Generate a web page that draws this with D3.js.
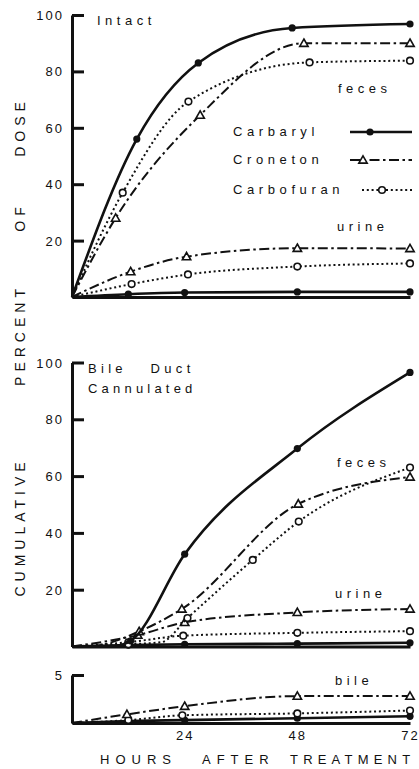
<!DOCTYPE html>
<html>
<head>
<meta charset="utf-8">
<script src="https://cdn.jsdelivr.net/npm/d3@7"></script>
<style>
  body { margin: 0; background: #fff; }
  svg text { font-family: "Liberation Sans", Arial, sans-serif; fill: #111; white-space: pre; }
</style>
</head>
<body>
<svg id="chart" width="419" height="769"></svg>
<script>
// --- data: [hours, percent of dose, (0 = no marker)] ---
var compounds = ["Carbaryl", "Croneton", "Carbofuran"];
var hourTicks = [24, 48, 72];
var pctTicks = [20, 40, 60, 80, 100];
var bileTicks = [5];

// intact animals
var intactFecesCarbaryl   = [[0,0],[13.8,56],[26.9,83],[46.9,95.4],[72,96.8]];
var intactFecesCroneton   = [[0,0],[9.3,28],[27.3,64.5],[49.4,90],[72,90]];
var intactFecesCarbofuran = [[0,0],[10.8,37],[24.8,69.3],[50.6,83.2],[72,83.8]];
var intactUrineCarbaryl   = [[0,0],[12,1],[24,1.6],[48,1.8],[72,1.8]];
var intactUrineCroneton   = [[0,0],[12.5,9],[24.4,14.3],[48,17.3],[72,17.2]];
var intactUrineCarbofuran = [[0,0],[12.7,4.6],[24.7,8],[48,10.8],[72,11.9]];

// bile duct cannulated
var bdcFecesCarbaryl   = [[0,0],[9,0.2,0],[12.5,2],[24,32.5],[48,69.7],[72,96.5]];
var bdcFecesCroneton   = [[0,0],[4,0.1,0],[14.3,5.3],[23.4,13.2],[48.2,50.2],[72,59.7]];
var bdcFecesCarbofuran = [[0,0],[12,0.8],[19,1.5,0],[24.6,10],[38.5,30.5],[48.3,44],[72,63]];
var bdcUrineCarbaryl   = [[0,0],[12,0.5],[24,0.8],[48,1],[72,1.3]];
var bdcUrineCroneton   = [[0,0],[14,4],[24,8.5],[48,12],[72,13.2]];
var bdcUrineCarbofuran = [[0,0],[12,1.5],[23.7,3.8],[48,4.8],[72,5.4]];
var bileCarbaryl   = [[0,0],[12,0.2],[24,0.3],[48,0.5],[72,0.7]];
var bileCroneton   = [[0,0],[11.7,0.9],[24,1.75],[48,2.8],[72,2.8]];
var bileCarbofuran = [[0,0],[12,0.3],[23.5,0.8],[48,1.0],[72,1.3]];

/*=================================
	SETUP
**===============================*/
var svg = d3.select("#chart");
var x = d3.scaleLinear().domain([0, 72]).range([72, 410]);
var yTop  = d3.scaleLinear().domain([0, 100]).range([297, 15]);
var yMid  = d3.scaleLinear().domain([0, 100]).range([646.5, 362.5]);
var yBile = d3.scaleLinear().domain([0, 5]).range([723, 675]);

var styles = {
	Carbaryl:   { dash: null,             width: 2.6, marker: "dot" },
	Croneton:   { dash: "10,3.5,2.5,3.5", width: 2,   marker: "tri" },
	Carbofuran: { dash: "2,2.8",          width: 2,   marker: "ring" }
};

function drawMarker(g, type, cx, cy) {
	if (type == "dot") {
		g.append("circle").attr("cx", cx).attr("cy", cy).attr("r", 3.6).attr("fill", "#111");
	} else if (type == "ring") {
		g.append("circle").attr("cx", cx).attr("cy", cy).attr("r", 3.3)
			.attr("fill", "#fff").attr("stroke", "#111").attr("stroke-width", 1.6);
	} else {
		var s = 4.2;
		g.append("path")
			.attr("d", "M" + cx + "," + (cy - s) + "L" + (cx + s) + "," + (cy + s * 0.75) + "L" + (cx - s) + "," + (cy + s * 0.75) + "Z")
			.attr("fill", "#fff").attr("stroke", "#111").attr("stroke-width", 1.6);
	}
}

function drawSeries(data, name, y) {
	var st = styles[name];
	var line = d3.line()
		.x(function(d) { return x(d[0]); })
		.y(function(d) { return y(d[1]); })
		.curve(d3.curveMonotoneX);
	svg.append("path")
		.datum(data)
		.attr("d", line)
		.attr("fill", "none")
		.attr("stroke", "#111")
		.attr("stroke-width", st.width)
		.attr("stroke-dasharray", st.dash);
	var g = svg.append("g");
	data.forEach(function(d) {
		if (d[0] > 0 && d[2] !== 0) drawMarker(g, st.marker, x(d[0]), y(d[1]));
	});
}

function drawYAxis(y, ticks) {
	var ax = svg.append("g")
		.attr("transform", "translate(72,0)")
		.call(d3.axisLeft(y).tickValues(ticks).tickFormat(d3.format("d"))
			.tickSize(-12).tickSizeOuter(0).tickPadding(20));
	ax.select(".domain").attr("stroke", "#111").attr("stroke-width", 3);
	ax.selectAll(".tick line").attr("stroke", "#111").attr("stroke-width", 3);
	ax.selectAll(".tick text")
		.attr("x", -8).attr("dy", "0.35em")
		.style("font-size", "13px").style("letter-spacing", "2px").attr("fill", "#111");
}

function drawBaseline(y, labels) {
	var ax = svg.append("g")
		.attr("transform", "translate(0," + y.range()[0] + ")")
		.call(d3.axisBottom(x).tickValues(labels ? hourTicks : []).tickSize(0).tickSizeOuter(0).tickPadding(8));
	ax.select(".domain").attr("stroke", "#111").attr("stroke-width", 3);
	ax.selectAll(".tick text").style("font-size", "13px").style("letter-spacing", "2px").attr("fill", "#111");
}

function label(txt, lx, ly, size, spacing, anchor) {
	svg.append("text").attr("x", lx).attr("y", ly).text(txt)
		.style("font-size", size + "px").style("letter-spacing", spacing + "px")
		.attr("text-anchor", anchor || "start");
}

/*=================================
	PANELS
**===============================*/
drawYAxis(yTop, pctTicks);
drawBaseline(yTop, false);
drawYAxis(yMid, pctTicks);
drawBaseline(yMid, false);
drawYAxis(yBile, bileTicks);
drawBaseline(yBile, true);

drawSeries(intactUrineCarbaryl, "Carbaryl", yTop);
drawSeries(intactUrineCarbofuran, "Carbofuran", yTop);
drawSeries(intactUrineCroneton, "Croneton", yTop);
drawSeries(intactFecesCarbofuran, "Carbofuran", yTop);
drawSeries(intactFecesCroneton, "Croneton", yTop);
drawSeries(intactFecesCarbaryl, "Carbaryl", yTop);

drawSeries(bdcUrineCarbaryl, "Carbaryl", yMid);
drawSeries(bdcUrineCarbofuran, "Carbofuran", yMid);
drawSeries(bdcUrineCroneton, "Croneton", yMid);
drawSeries(bdcFecesCarbofuran, "Carbofuran", yMid);
drawSeries(bdcFecesCroneton, "Croneton", yMid);
drawSeries(bdcFecesCarbaryl, "Carbaryl", yMid);

drawSeries(bileCarbaryl, "Carbaryl", yBile);
drawSeries(bileCarbofuran, "Carbofuran", yBile);
drawSeries(bileCroneton, "Croneton", yBile);

/*=================================
	LEGEND & LABELS
**===============================*/
var legendY = [136, 164, 194];
var legendStart = [350, 350, 362];
var legendMark = [370, 363, 382];
compounds.forEach(function(c, i) {
	label(c, 233, legendY[i], 13, 4.6);
	var st = styles[c];
	var ly = legendY[i] - 4;
	svg.append("line").attr("x1", legendStart[i]).attr("x2", 412).attr("y1", ly).attr("y2", ly)
		.attr("stroke", "#111").attr("stroke-width", st.width).attr("stroke-dasharray", st.dash);
	var g = svg.append("g");
	drawMarker(g, st.marker, legendMark[i], ly);
});

label("Intact", 97, 25, 13, 4.5);
label("feces", 338, 93, 13, 4.5);
label("urine", 337, 231, 13, 4.5);
label("Bile   Duct", 88, 373, 13, 4.3);
label("Cannulated", 88, 393, 13, 4.2);
label("feces", 337, 467, 13, 4.5);
label("urine", 335, 598, 13, 4.5);
label("bile", 335, 685, 13, 4.5);

label("HOURS", 100, 764, 13, 6);
label("AFTER", 202, 764, 13, 6);
label("TREATMENT", 290, 764, 13, 5.2);

// rotated y title, words spaced out as in the original
var yWords = [["DOSE", 127], ["OF", 217], ["PERCENT", 335], ["CUMULATIVE", 527]];
yWords.forEach(function(w) {
	svg.append("text")
		.attr("transform", "translate(25," + w[1] + ") rotate(-90)")
		.attr("text-anchor", "middle")
		.style("font-size", "14px").style("letter-spacing", "5px")
		.text(w[0]);
});
</script>
</body>
</html>
